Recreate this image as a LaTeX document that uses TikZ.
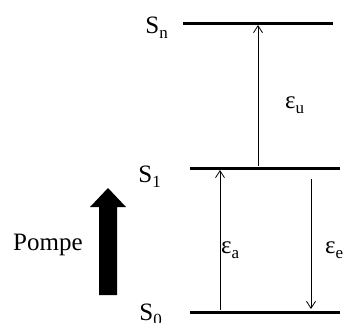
\documentclass[tikz,border=0pt]{standalone}
\usepackage{fontspec}
\setmainfont{Liberation Serif}
\usetikzlibrary{arrows.meta, positioning}
\newcommand{\lvsub}[1]{\raisebox{-0.45ex}{\fontsize{17}{17}\selectfont #1}}
\tikzset{
  level/.style={line width=3pt},
  trans/.style={line width=0.8pt, -{Straight Barb[length=7pt,width=9pt]}},
  lbl/.style={font=\fontsize{25}{29}\selectfont, inner sep=0pt},
}

\begin{document}
\begin{tikzpicture}[x=1pt, y=-1pt]
    \useasboundingbox (0,0) rectangle (345,322);
    % ── energy levels
    \coordinate (Sn-l) at (183,23);  \coordinate (Sn-r) at (333,23);
    \coordinate (S1-l) at (190,168); \coordinate (S1-r) at (340,168);
    \coordinate (S0-l) at (190,312); \coordinate (S0-r) at (340,312);
    \draw[level] (Sn-l) -- (Sn-r);
    \draw[level] (S1-l) -- (S1-r);
    \draw[level] (S0-l) -- (S0-r);
    \node[lbl, anchor=base east] (Sn) at (168,33)  {S\lvsub{n}};
    \node[lbl, anchor=base east] (S1) at (161,182) {S\lvsub{1}};
    \node[lbl, anchor=base east] (S0) at (162,320) {S\lvsub{0}};
    % ── transitions
    \coordinate (u-bot) at (258,166); \coordinate (u-top) at (258,25);
    \coordinate (a-bot) at (220,310); \coordinate (a-top) at (220,170);
    \coordinate (e-top) at (311,179); \coordinate (e-bot) at (311,309);
    \draw[trans] (u-bot) -- (u-top);
    \draw[trans] (a-bot) -- (a-top);
    \draw[trans] (e-top) -- (e-bot);
    \node[lbl, anchor=base west] (eu) at (285,108) {ε\lvsub{u}};
    \node[lbl, anchor=base west] (ea) at (221,253) {ε\lvsub{a}};
    \node[lbl, anchor=base west] (ee) at (325,253) {ε\lvsub{e}};
    % ── pump
    \fill (99,295) -- (117,295) -- (117,207) -- (126,207)
          -- (108,188) -- (90,207) -- (99,207) -- cycle;
    \node[lbl, anchor=base west] (pompe) at (13,250) {Pompe};
\end{tikzpicture}
\end{document}
